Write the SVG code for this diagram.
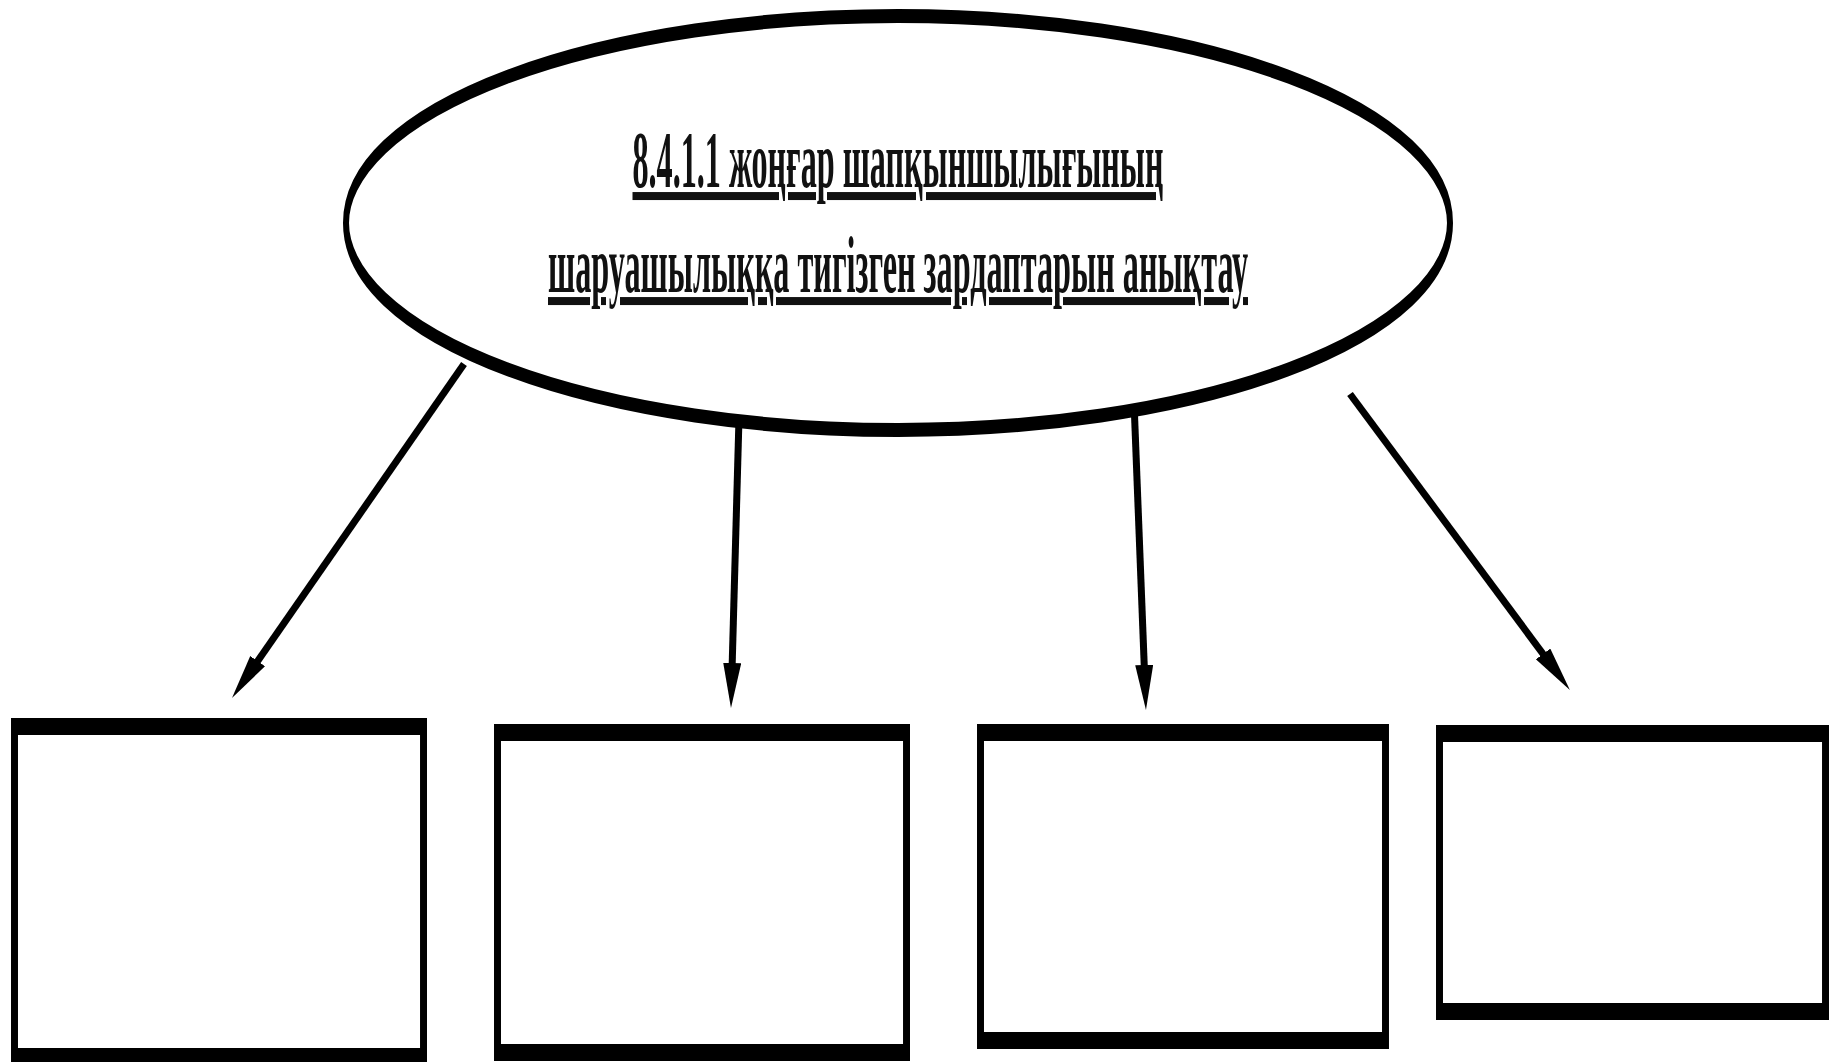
<svg xmlns="http://www.w3.org/2000/svg" width="1837" height="1062" viewBox="0 0 1837 1062">
<style>
.shape{fill:#ffffff;stroke:#000000;}
.conn{stroke:#000000;stroke-width:7;fill:none;marker-end:url(#ah);}
.lbl{font-family:"Liberation Serif","Times New Roman",serif;font-weight:bold;font-size:80px;fill:#111111;text-decoration:underline;text-decoration-skip-ink:none;}
</style>
<defs>
<marker id="ah" markerUnits="userSpaceOnUse" markerWidth="46" markerHeight="20" refX="15" refY="9" orient="auto">
<path d="M0,0 L45,9 L0,18 z" fill="#000000"/>
</marker>
</defs>
<rect x="0" y="0" width="1837" height="1062" fill="#ffffff"/>
<g id="connectors">
<line class="conn" x1="464" y1="364" x2="249.1" y2="673.4"/>
<line class="conn" x1="740" y1="382" x2="731.8" y2="678"/>
<line class="conn" x1="1133" y1="376" x2="1144.8" y2="680"/>
<line class="conn" x1="1350" y1="394" x2="1552" y2="666"/>
</g>
<g id="node-main">
<g transform="translate(898,223) scale(0.43,1)">
<ellipse class="shape" cx="0" cy="0" rx="1283.7" ry="207" stroke-width="14"/>
</g>
<g transform="translate(898,0) scale(0.5,1)">
<text class="lbl" x="-531" y="187" textLength="1062" lengthAdjust="spacingAndGlyphs">8.4.1.1 жоңғар шапқыншылығының</text>
<text class="lbl" x="-700" y="292" textLength="1400" lengthAdjust="spacingAndGlyphs">шаруашылыққа тигізген зардаптарын анықтау</text>
</g>
</g>
<g id="node-box1" transform="translate(14.5,0) scale(0.41,1)">
<rect class="shape" x="0" y="726.5" width="997.6" height="330" stroke-width="17"/>
</g>
<g id="node-box2" transform="translate(497.5,0) scale(0.41,1)">
<rect class="shape" x="0" y="732.5" width="997.6" height="320" stroke-width="17"/>
</g>
<g id="node-box3" transform="translate(980.5,0) scale(0.41,1)">
<rect class="shape" x="0" y="732.5" width="987.8" height="308" stroke-width="17"/>
</g>
<g id="node-box4" transform="translate(1439.5,0) scale(0.41,1)">
<rect class="shape" x="0" y="733.5" width="941.5" height="278" stroke-width="17"/>
</g>
</svg>
